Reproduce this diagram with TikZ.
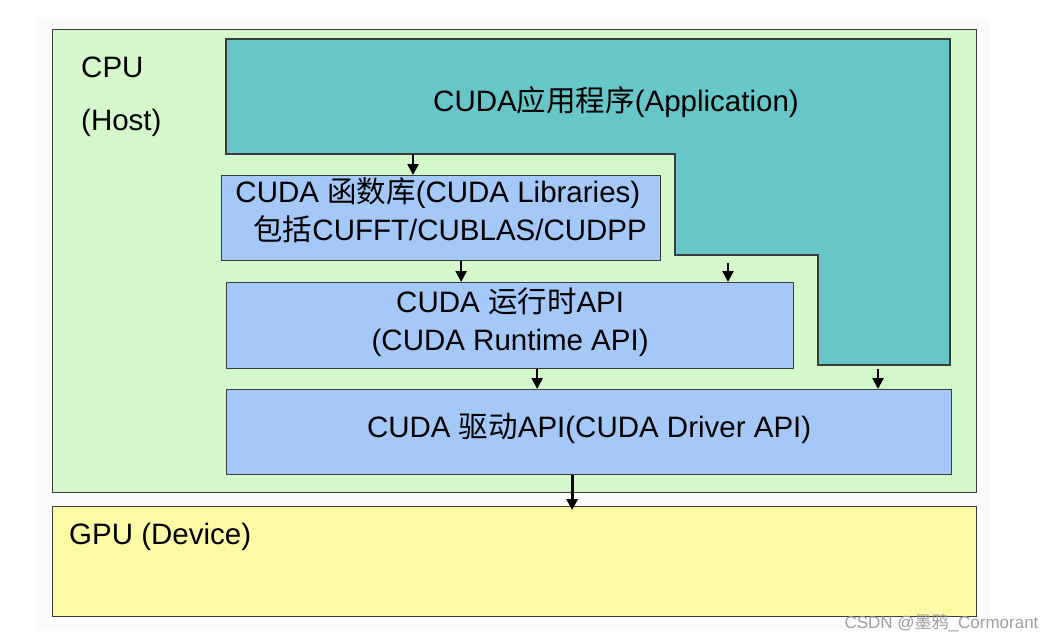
\documentclass[tikz,border=0pt]{standalone}
\usepackage{fontspec}
\setmainfont{Liberation Sans}
\newfontfamily\cjkfont{Noto Sans CJK SC}
\usepackage{tikz}
\usetikzlibrary{arrows.meta, positioning}

\newcommand{\zh}[1]{{\cjkfont #1}}

\definecolor{hostgreen}{RGB}{212,248,204}
\definecolor{appteal}{RGB}{102,198,200}
\definecolor{apiblue}{RGB}{164,200,248}
\definecolor{devyellow}{RGB}{253,250,165}
\definecolor{edgegray}{RGB}{60,60,60}

\begin{document}
\begin{tikzpicture}[x=1pt,y=-1pt,>={Triangle[length=11pt,width=11pt]},
        font=\fontsize{29.5}{38}\selectfont,
        hostbox/.style={draw=edgegray,fill=hostgreen,line width=1.4pt,inner sep=0pt,anchor=north west},
        devbox/.style={draw=edgegray,fill=devyellow,line width=1.4pt,inner sep=0pt,anchor=north west},
        apibox/.style={draw=edgegray,fill=apiblue,line width=1.3pt,inner sep=0pt,align=center,anchor=north west},
        appshape/.style={draw=edgegray,fill=appteal,line width=1.3pt},
        lbl/.style={inner sep=0pt,anchor=west},
        arr/.style={->,line width=2.3pt}]

        \useasboundingbox (0,0) rectangle (1057,643);
        \fill[gray!3] (35,18) rectangle (990,630);

        % host and device
        \node[hostbox,minimum width=924pt,minimum height=463pt] (cpu) at (52,29) {};
        \node[devbox,minimum width=924pt,minimum height=110pt] (gpu) at (52,506) {};
        \node[lbl] (cpulabel) at (81,67) {CPU};
        \node[lbl,below=56pt of cpulabel.west,anchor=west] (hostlabel) {(Host)};
        \node[lbl] (gpulabel) at (69,537) {GPU (Device)};

        % application
        \draw[appshape] (226,39) -- (950,39) -- (950,365) -- (818,365) -- (818,255)
            -- (675,255) -- (675,154) -- (226,154) -- cycle;
        \node (app) at (616,102) {CUDA\zh{应用程序}(Application)};
        \coordinate (appA) at (413,154);
        \coordinate (appB) at (728,255);
        \coordinate (appC) at (878,365);

        % api layers
        \node[apibox,align=left,text depth=19pt,minimum width=439pt,minimum height=85pt] (lib) at (221,175)
            {CUDA \zh{函数库}(CUDA Libraries)\\ \hspace*{18pt}\zh{包括}CUFFT/CUBLAS/CUDPP};
        \node[apibox,text depth=14pt,minimum width=567pt,minimum height=86pt] (run) at (226,282)
            {CUDA \zh{运行时}API\\(CUDA Runtime API)};
        \node[apibox,text depth=13pt,minimum width=725pt,minimum height=85pt] (drv) at (226,389)
            {CUDA \zh{驱动}API(CUDA Driver API)};

        \draw[arr] (appA) -- (appA |- lib.north);
        \draw[arr] ([xshift=20pt]lib.south) -- ([xshift=20pt]lib.south |- run.north);
        \draw[arr,shorten <=8pt] (appB) -- (appB |- run.north);
        \draw[arr] ([xshift=27pt]run.south) -- ([xshift=27pt]run.south |- drv.north);
        \draw[arr,shorten <=4pt] (appC) -- (appC |- drv.north);
        \draw[arr,line width=3pt,shorten >=-4pt] ([xshift=-17pt]drv.south) -- ([xshift=-17pt]drv.south |- gpu.north);

        \node[anchor=east,text=gray!75,font=\fontsize{17}{17}\selectfont] (mark) at (1042,623)
            {CSDN @\zh{墨鸦}\_Cormorant};
\end{tikzpicture}
\end{document}
